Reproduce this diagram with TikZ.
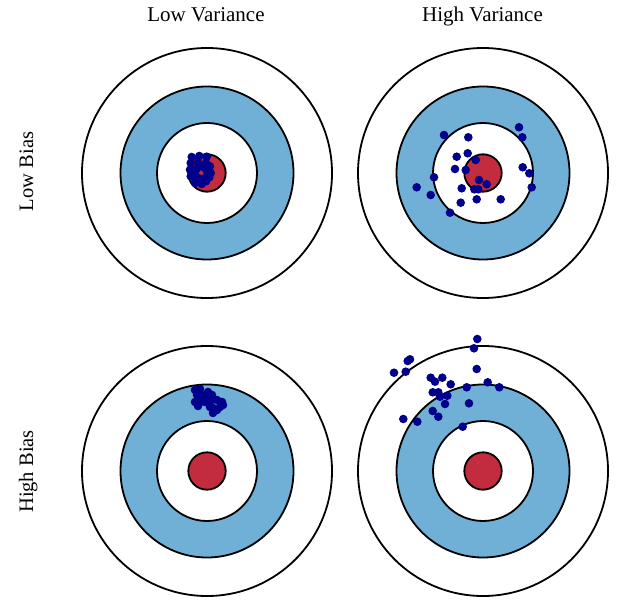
\documentclass[tikz,border=0pt]{standalone}
\usepackage{fontspec}
\setmainfont{Liberation Serif}
\definecolor{ringblue}{RGB}{112,176,214}
\definecolor{bullred}{RGB}{194,44,62}
\definecolor{dotblue}{RGB}{0,0,140}
\tikzset{
  ring/.style={draw=black,line width=1.8pt},
  hit/.style={fill=dotblue},
  lab/.style={font=\fontsize{21}{24}\selectfont,anchor=base,inner sep=0pt},
  sidelab/.style={font=\fontsize{20.5}{24}\selectfont,anchor=base,inner sep=0pt,rotate=90}
}
\newcommand{\target}[2]{%
  \fill[white,ring] (#1,#2) circle[radius=125pt];
  \fill[ringblue,ring] (#1,#2) circle[radius=86.5pt];
  \fill[white,ring] (#1,#2) circle[radius=50pt];
  \fill[bullred,ring] (#1,#2) circle[radius=18.7pt];
}
\newcommand{\hits}[1]{\foreach \p in {#1}{\fill[hit] \p circle[radius=4.3pt];}}
\begin{document}
\begin{tikzpicture}[x=1pt,y=-1pt]
\useasboundingbox (0,0) rectangle (617,609);
\target{207}{173}
\target{483}{173}
\target{207}{471}
\target{483}{471}
% labels
\node[lab] (lv) at (206,21.7) {Low Variance};
\node[lab] (hv) at (482.5,21.7) {High Variance};
\node[sidelab] (lb) at (33,171.5) {Low Bias};
\node[sidelab] (hb) at (33,471.5) {High Bias};
% low bias, low variance
\hits{(191.7,157),(199.3,156),(206.7,156.7),(190.7,163),(198.3,163),(206,163),(210,166.3),(190,169.7),(196.7,168.7),(203,167),(206.7,170.7),(210.7,173),(190.7,176.3),(195,172),(198.3,178),(205,178),(209.3,177.3),(195,183),(201.7,184),(206,181.3)}
% low bias, high variance
\hits{(519,127.3),(522.3,137.3),(444,135),(468.3,137.3),(456.7,156.7),(467.7,153.3),(475.7,160),(455,169),(465.7,170),(522.7,167.3),(529.3,173.3),(434,177.3),(479,180),(486.7,184.3),(416.7,187.3),(461.7,188.3),(474.3,189.3),(478.3,189.3),(531.7,187.3),(430.7,195),(476.7,199.3),(500.7,199.3),(460.7,202.7),(450,212.7)}
% high bias, low variance
\hits{(195,390),(200,389),(197,395),(202,395),(208,392),(212,395),(207,398),(195,402),(200,402),(205,402),(212,400),(217,400),(222,402),(223,405),(220,407),(213,408),(217,410),(210,407),(198,406),(213,413)}
% high bias, high variance
\hits{(477.3,339),(474,348.3),(410,359.3),(407.7,361),(394,372.7),(405.7,371.7),(476.7,369),(430.7,377.7),(435,381.7),(442.3,377.7),(450.7,384.3),(466.7,387.3),(487.7,382.3),(499.3,387.3),(432.7,392.3),(438.3,392.3),(440,396.7),(447.3,395.7),(445,404),(469,403.3),(432.7,411),(438.3,416.7),(403.3,419),(417.3,421.7),(462.7,426.7)}
\end{tikzpicture}
\end{document}
